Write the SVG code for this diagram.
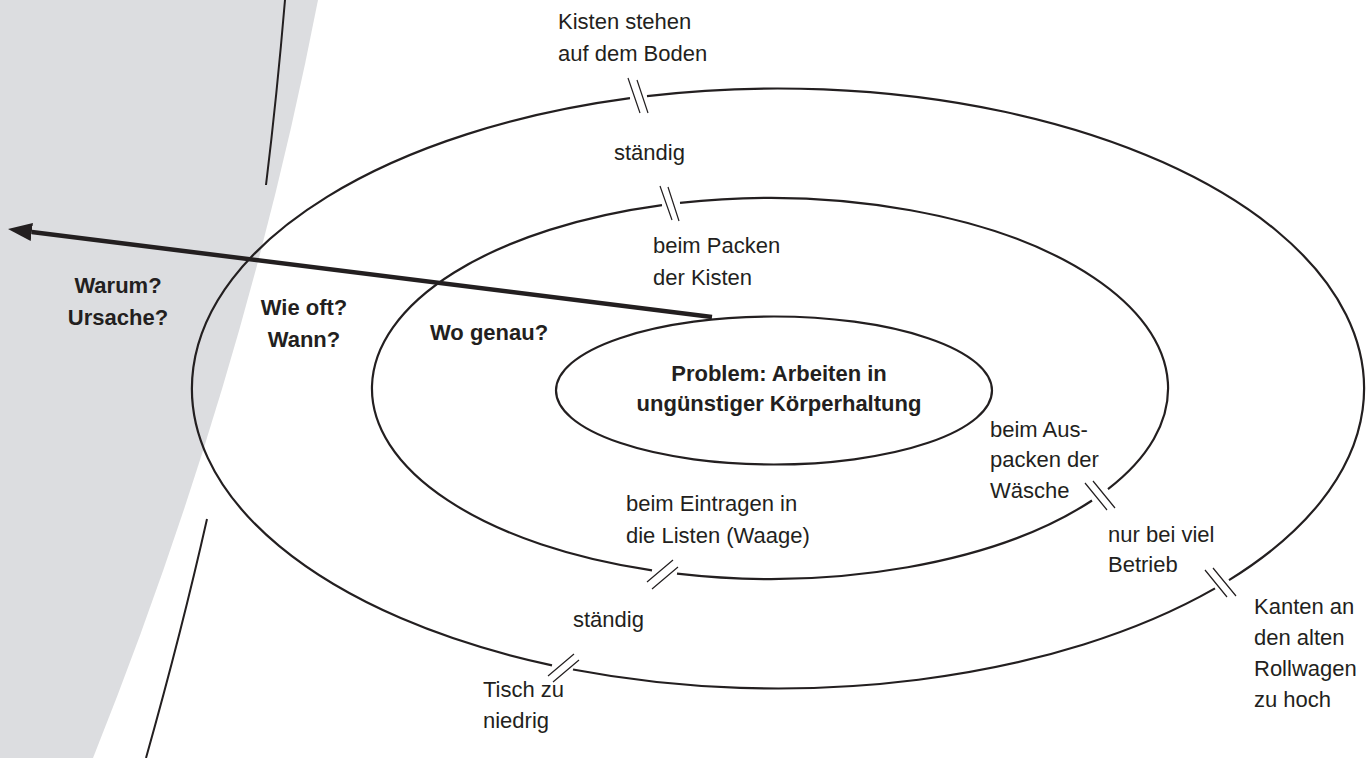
<svg xmlns="http://www.w3.org/2000/svg" width="1372" height="758" viewBox="0 0 1372 758">
  <defs>
    <style>
      .ring { fill: none; stroke: #231f20; stroke-width: 2.2; }
      .brk { fill: none; stroke: #231f20; stroke-width: 1.2; }
      .arc { fill: none; stroke: #231f20; stroke-width: 2; }
      .t { font-family: "Liberation Sans", Arial, sans-serif; font-size: 22px; fill: #231f20; }
      .b { font-weight: bold; }
      .m { text-anchor: middle; }
    </style>
    <marker id="ah" markerUnits="userSpaceOnUse" viewBox="0 0 24 18" markerWidth="24" markerHeight="18" refX="0" refY="9" orient="auto">
      <path d="M0,0 L24,9 L0,18 Z" fill="#231f20"/>
    </marker>
  </defs>
  <rect width="1372" height="758" fill="#ffffff"/>
  <g id="background">
    <path d="M0,0 L318,0 Q244.5,379 93,758 L0,758 Z" fill="#dcdde0"/>
    <path class="arc" d="M285,0 Q277,95 266,185"/>
    <path class="arc" d="M207,519 Q182,630 146,758"/>
  </g>
  <g id="outer-ring">
    <path class="ring" d="M647,96.1 A586,300 0 0 1 1229,580.1 M1215,588.4 A586,300 0 0 1 573,669.5 M552,665.3 A586,300 0 0 1 630,98.2"/>
    <path class="brk" d="M628,78 L640,113 M637,80 L648,113"/>
    <path class="brk" d="M1205,570 L1227,597 M1213,568 L1236,596"/>
    <path class="brk" d="M548,676 L574,654 M553,682 L579,660"/>
  </g>
  <g id="middle-ring">
    <path class="ring" d="M680,202.9 A398,190.5 0 0 1 1108,489.1 M1092,500.5 A398,190.5 0 0 1 677,573.7 M652,570.4 A398,190.5 0 0 1 662,205.1"/>
    <path class="brk" d="M660,186 L672,220 M668,187 L679,221"/>
    <path class="brk" d="M1085,483 L1107,510 M1093,481 L1115,508"/>
    <path class="brk" d="M647,582 L673,560 M652,589 L678,567"/>
  </g>
  <g id="problem">
    <ellipse class="ring" cx="774" cy="390.5" rx="218" ry="74"/>
    <text class="t b m" x="779" y="381">Problem: Arbeiten in</text>
    <text class="t b m" x="779" y="411">ungünstiger Körperhaltung</text>
  </g>
  <g id="connectors">
    <line x1="712" y1="317" x2="31.8" y2="232" stroke="#231f20" stroke-width="4.5" marker-end="url(#ah)"/>
  </g>
  <g id="questions">
    <text class="t b m" x="118" y="293">Warum?</text>
    <text class="t b m" x="118" y="325">Ursache?</text>
    <text class="t b m" x="304" y="315">Wie oft?</text>
    <text class="t b m" x="304" y="347">Wann?</text>
    <text class="t b" x="430" y="340">Wo genau?</text>
  </g>
  <g id="label-boden">
    <text class="t" x="558" y="29">Kisten stehen</text>
    <text class="t" x="558" y="61">auf dem Boden</text>
  </g>
  <g id="label-staendig-top">
    <text class="t" x="614" y="160">ständig</text>
  </g>
  <g id="label-packen">
    <text class="t" x="653" y="253">beim Packen</text>
    <text class="t" x="653" y="285">der Kisten</text>
  </g>
  <g id="label-auspacken">
    <text class="t" x="990" y="437">beim Aus-</text>
    <text class="t" x="990" y="467">packen der</text>
    <text class="t" x="990" y="498">Wäsche</text>
  </g>
  <g id="label-eintragen">
    <text class="t" x="626" y="511">beim Eintragen in</text>
    <text class="t" x="626" y="543">die Listen (Waage)</text>
  </g>
  <g id="label-betrieb">
    <text class="t" x="1108" y="542">nur bei viel</text>
    <text class="t" x="1108" y="572">Betrieb</text>
  </g>
  <g id="label-staendig-bottom">
    <text class="t" x="573" y="627">ständig</text>
  </g>
  <g id="label-kanten">
    <text class="t" x="1254" y="614">Kanten an</text>
    <text class="t" x="1254" y="645">den alten</text>
    <text class="t" x="1254" y="676">Rollwagen</text>
    <text class="t" x="1254" y="707">zu hoch</text>
  </g>
  <g id="label-tisch">
    <text class="t" x="483" y="697">Tisch zu</text>
    <text class="t" x="483" y="728">niedrig</text>
  </g>
</svg>
